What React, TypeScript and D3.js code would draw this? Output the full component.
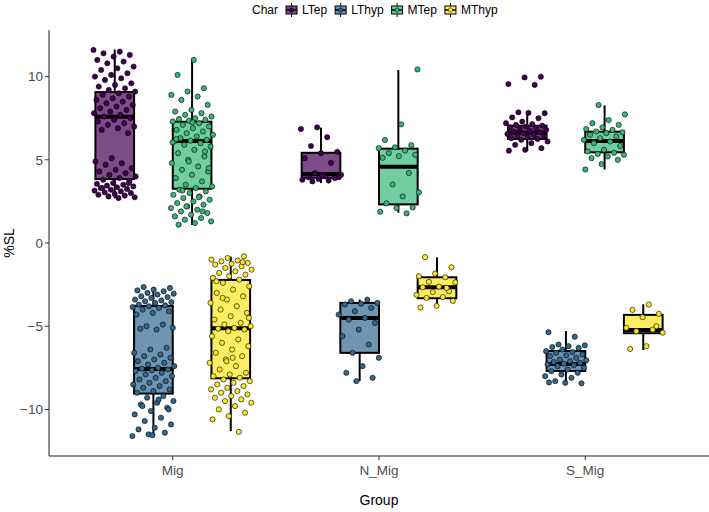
import React from "react";
import * as d3 from "d3";

const groups = ["Mig", "N_Mig", "S_Mig"];
const chars = ["LTep", "LThyp", "MTep", "MThyp"];
const colors = ["#440154", "#31688E", "#35B779", "#FDE725"];
const yTicks = [-10, -5, 0, 5, 10];

// box statistics per Char, one value per Group (Mig, N_Mig, S_Mig)
const ltepStats = { lo: [2.68, 3.6, 5.53], q1: [3.84, 3.92, 6.25], med: [7.59, 4.14, 6.63], q3: [9.07, 5.42, 7.05], hi: [11.63, 6.93, 7.85] };
const lthypStats = { lo: [-11.6, -8.3, -8.43], q1: [-9.05, -6.6, -7.69], med: [-7.57, -4.5, -7.27], q3: [-3.78, -3.6, -6.49], hi: [-2.65, -3.4, -5.29] };
const mtepStats = { lo: [1.08, 1.82, 4.42], q1: [3.26, 2.32, 5.45], med: [6.13, 4.58, 6.13], q3: [7.29, 5.67, 6.69], hi: [11.03, 10.39, 8.27] };
const mthypStats = { lo: [-11.3, -3.86, -6.43], q1: [-8.13, -3.32, -5.42], med: [-5.12, -2.66, -5.23], q3: [-2.22, -2.06, -4.32], hi: [-0.82, -0.86, -3.68] };

// observations
const migLTep = [11.6, 11.5, 11.4, 11.3, 11.2, 11.0, 10.9, 10.8, 10.6, 10.5, 10.4, 10.2, 10.1, 10.0, 9.9, 9.8, 9.6, 9.5, 9.4, 9.3, 9.2, 9.1, 9.0, 8.9, 8.8, 8.7, 8.6, 8.5, 8.4, 8.3, 8.2, 8.1, 8.0, 7.9, 7.8, 7.7, 7.6, 7.5, 7.4, 7.3, 7.2, 7.1, 7.0, 6.9, 6.8, 6.6,
  5.1, 4.9, 4.8, 4.7, 4.5, 4.4, 4.3, 4.2, 4.1, 4.0, 3.9, 3.8, 3.7, 3.6, 3.55, 3.5, 3.45, 3.4, 3.35, 3.3, 3.25, 3.2, 3.15, 3.1, 3.05, 3.0, 2.95, 2.9, 2.85, 2.8, 2.75, 2.7, 3.3, 3.6];
const migLThyp = [-2.65, -2.7, -2.8, -2.85, -2.9, -3.0, -3.05, -3.1, -3.2, -3.25, -3.3, -3.4, -3.45, -3.5, -3.55, -3.6, -3.7, -3.75, -3.8, -3.85, -3.9, -4.0, -4.1, -4.2, -4.3,
  -4.9, -5.0, -5.1, -5.2, -5.15,
  -6.3, -6.4, -6.6, -6.7, -6.8, -6.9, -7.0, -7.1, -7.2, -7.3, -7.4, -7.5, -7.55, -7.6, -7.65, -7.7, -7.8, -7.9, -8.0, -8.1, -8.2, -8.3, -8.4, -8.5, -8.6, -8.7, -8.8, -8.9, -9.0,
  -9.2, -9.3, -9.5, -9.6, -9.7, -9.9, -10.1, -10.3, -10.5, -10.7, -10.9, -11.1, -11.2, -11.4, -11.5, -11.6, -9.4, -9.8, -10.0, -11.55];
const migMTep = [11.0, 10.1, 9.3, 9.1, 8.9, 8.8, 8.6, 8.3, 8.0, 7.9, 7.8, 7.7, 7.6, 7.5, 7.45, 7.4, 7.35, 7.3, 7.2, 7.1, 7.0, 6.9, 6.8, 6.7, 6.6, 6.5, 6.4, 6.3, 6.2, 6.15, 6.1, 6.0, 5.9, 5.8, 5.6, 5.4, 5.2, 5.0, 4.8, 4.6, 4.4, 4.3, 4.1, 3.9, 3.7, 3.5, 3.4, 3.3, 3.2, 3.1, 3.0, 2.9, 2.8, 2.7, 2.6, 2.5, 2.4, 2.3, 2.2, 2.1, 2.0, 1.9, 1.8, 1.7, 1.6, 1.5, 1.4, 1.3, 1.2, 1.1, 5.5, 4.9, 6.05, 2.75, 3.15, 4.5, 7.25, 6.25, 1.9, 2.2];
const migMThyp = [-0.8, -0.9, -1.0, -1.05, -1.1, -1.2, -1.25, -1.3, -1.4, -1.5, -1.6, -1.7, -1.8, -1.9, -2.0, -2.1, -2.2,
  -2.4, -2.6, -2.8, -3.0, -3.2, -3.4, -3.6, -3.8, -4.0, -4.2, -4.4, -4.6, -4.8, -4.9, -5.0, -5.1, -5.15, -5.2, -5.3,
  -5.6, -5.8, -6.0, -6.2, -6.4, -6.6, -6.8, -7.0, -7.2, -7.4, -7.6, -7.8, -7.9, -8.0, -8.1,
  -8.2, -8.3, -8.4, -8.5, -8.6, -8.7, -8.8, -8.9, -9.0, -9.1, -9.2, -9.3, -9.4, -9.5, -9.6, -9.8, -10.0, -10.2, -10.4, -10.6, -11.35,
  -3.3, -4.5, -6.9, -2.3, -1.15, -7.1];
const nMigLTep = [6.95, 6.85, 6.36, 5.83, 5.48, 5.4, 5.1, 4.82, 4.2, 4.1, 4.0, 3.95, 3.9, 3.85, 3.8, 3.75, 3.7, 3.95, 4.05];
const nMigLThyp = [-3.4, -3.5, -3.6, -3.65, -3.7, -3.9, -4.1, -4.3, -4.5, -4.6, -4.8, -5.2, -5.6, -6.1, -6.6, -6.9, -7.4, -7.8, -8.1, -8.3];
const nMigMTep = [10.43, 7.13, 6.19, 5.88, 5.75, 5.7, 5.55, 5.4, 5.3, 5.22, 5.12, 4.2, 3.52, 3.04, 2.8, 2.38, 2.14, 2.1, 1.88, 1.78];
const nMigMThyp = [-0.85, -1.46, -1.84, -2.0, -2.06, -2.34, -2.36, -2.62, -2.66, -2.9, -2.95, -3.12, -3.25, -3.3, -3.48, -3.78, -3.88, -2.7];
const sMigLTep = [9.99, 9.95, 9.55, 9.5, 7.85, 7.8, 7.82, 7.55, 7.5, 7.3, 7.2, 7.15, 7.1, 7.05, 7.0, 6.95, 6.9, 6.85, 6.8, 6.75, 6.7, 6.65, 6.6, 6.55, 6.5, 6.45, 6.4, 6.35, 6.3, 6.25, 6.2, 6.1, 6.0, 5.9, 5.7, 5.6, 5.55];
const sMigLThyp = [-5.36, -5.63, -6.1, -6.15, -6.2, -6.25, -6.3, -6.4, -6.5, -6.55, -6.6, -6.7, -6.75, -6.8, -6.9, -7.0, -7.05, -7.1, -7.15, -7.2, -7.25, -7.3, -7.35, -7.4, -7.5, -7.6, -7.7, -7.8, -7.9, -8.0, -8.1, -8.3, -8.43, -8.4, -8.38];
const sMigMTep = [8.29, 7.73, 7.39, 7.2, 7.1, 6.95, 6.85, 6.8, 6.7, 6.65, 6.6, 6.5, 6.4, 6.3, 6.2, 6.1, 6.0, 5.83, 5.6, 5.5, 5.42, 5.35, 5.3, 5.2, 5.1, 5.0, 4.74, 4.42];
const sMigMThyp = [-3.7, -4.02, -4.26, -4.46, -5.1, -5.2, -5.3, -5.39, -6.2, -6.37, -5.0];

const statsByChar = [ltepStats, lthypStats, mtepStats, mthypStats];
const pointsByGroup = [
  [migLTep, migLThyp, migMTep, migMThyp],
  [nMigLTep, nMigLThyp, nMigMTep, nMigMThyp],
  [sMigLTep, sMigLThyp, sMigMTep, sMigMThyp],
];

const W = 709, H = 512;
const M = { left: 49, right: 709, top: 30, bottom: 456 };
const FONT = "'Liberation Sans', Arial, Helvetica, sans-serif";
const LEGEND_FS = 12;

function alphaFill(c: string, a: number) {
  const rgb = d3.rgb(c);
  const mix = (v: number) => Math.round(v * a + 255 * (1 - a));
  return d3.rgb(mix(rgb.r), mix(rgb.g), mix(rgb.b)).formatHex();
}

function textWidth(s: string, size: number) {
  const ctx = document.createElement("canvas").getContext("2d");
  if (!ctx) return s.length * size * 0.55;
  ctx.font = `${size}px 'Liberation Sans', Arial, sans-serif`;
  return ctx.measureText(s).width;
}

export default function App() {
  // discrete x scale: expand by 0.6 of a step on each side
  const x = d3.scalePoint().domain(groups).range([0, groups.length - 1]);
  const step = (M.right - M.left) / (groups.length - 1 + 1.2);
  const xc = (g: string) => M.left + step * (0.6 + (x(g) as number));
  const dodge = d3.scaleBand().domain(chars).range([-step * 0.375, step * 0.375]);
  const bw = dodge.bandwidth();
  const y = d3.scaleLinear().domain([-12.8, 12.8]).range([M.bottom, M.top]);

  const boxes: JSX.Element[] = [];
  const pts: JSX.Element[] = [];
  groups.forEach((g, gi) => {
    chars.forEach((c, ci) => {
      const s = statsByChar[ci];
      const cx = xc(g) + (dodge(c) as number) + bw / 2;
      const fill = alphaFill(colors[ci], 0.7);
      boxes.push(
        <g key={`b${gi}${ci}`}>
          <line x1={cx} x2={cx} y1={y(s.hi[gi])} y2={y(s.q3[gi])} stroke="#000" strokeWidth={2} />
          <line x1={cx} x2={cx} y1={y(s.q1[gi])} y2={y(s.lo[gi])} stroke="#000" strokeWidth={2} />
          <rect x={cx - bw / 2} y={y(s.q3[gi])} width={bw} height={y(s.q1[gi]) - y(s.q3[gi])} fill={fill} stroke="#000" strokeWidth={2} />
          <line x1={cx - bw / 2} x2={cx + bw / 2} y1={y(s.med[gi])} y2={y(s.med[gi])} stroke="#000" strokeWidth={4} />
        </g>
      );
      pointsByGroup[gi][ci].forEach((v, i) => {
        const f = ((i * 0.618034 + ci * 0.27 + gi * 0.41) % 1) - 0.5;
        pts.push(
          <circle key={`p${gi}${ci}${i}`} cx={cx + f * bw * 1.1} cy={y(v)} r={2.6} fill={colors[ci]} stroke="#000" strokeWidth={0.6} />
        );
      });
    });
  });

  // legend layout
  const legendItems: JSX.Element[] = [];
  let lx = 252;
  const ly = 10;
  legendItems.push(<text key="t" x={lx} y={ly + 4.3} fontSize={LEGEND_FS} fill="#000">Char</text>);
  lx += textWidth("Char", LEGEND_FS) + 6;
  chars.forEach((c, i) => {
    const kx = lx + 7.5;
    legendItems.push(
      <g key={c}>
        <line x1={kx} x2={kx} y1={ly - 7} y2={ly + 7} stroke="#000" strokeWidth={1} />
        <rect x={kx - 5.5} y={ly - 4} width={11} height={8} fill={alphaFill(colors[i], 0.7)} stroke="#000" strokeWidth={1} />
        <line x1={kx - 5.5} x2={kx + 5.5} y1={ly} y2={ly} stroke="#000" strokeWidth={1.5} />
        <circle cx={kx} cy={ly} r={2.2} fill={colors[i]} stroke="#000" strokeWidth={0.5} />
        <text x={kx + 10.5} y={ly + 4.3} fontSize={LEGEND_FS} fill="#000">{c}</text>
      </g>
    );
    lx = kx + 10.5 + textWidth(c, LEGEND_FS) + 6;
  });

  return (
    <svg width={W} height={H} style={{ display: "block", position: "absolute", left: 0, top: 0 }} fontFamily={FONT}>
      <rect width={W} height={H} fill="#fff" />
      {legendItems}
      {boxes}
      {pts}
      {/* axes */}
      <line x1={M.left} x2={M.left} y1={M.top} y2={M.bottom} stroke="#222" strokeWidth={1} />
      <line x1={M.left} x2={M.right} y1={M.bottom} y2={M.bottom} stroke="#222" strokeWidth={1} />
      {yTicks.map((t) => (
        <g key={t}>
          <line x1={M.left - 4} x2={M.left} y1={y(t)} y2={y(t)} stroke="#333" />
          <text x={M.left - 6} y={y(t)} dy="0.35em" textAnchor="end" fontSize={13.5} fill="#4D4D4D">{t < 0 ? `\u2212${-t}` : t}</text>
        </g>
      ))}
      {groups.map((g) => (
        <g key={g}>
          <line x1={xc(g)} x2={xc(g)} y1={M.bottom} y2={M.bottom + 4} stroke="#333" />
          <text x={xc(g)} y={M.bottom + 19} textAnchor="middle" fontSize={13.5} fill="#4D4D4D">{g}</text>
        </g>
      ))}
      <text x={(M.left + M.right) / 2} y={505} textAnchor="middle" fontSize={14} fill="#000">Group</text>
      <text transform={`translate(14, ${(M.top + M.bottom) / 2}) rotate(-90)`} textAnchor="middle" fontSize={14} fill="#000">%SL</text>
    </svg>
  );
}
